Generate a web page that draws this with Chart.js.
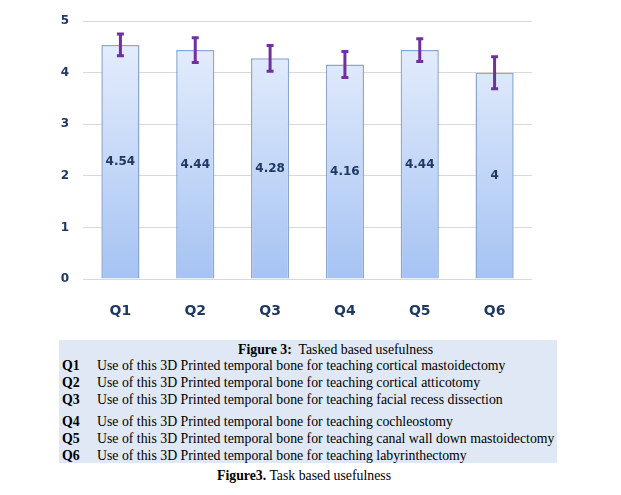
<!DOCTYPE html>
<html>
<head>
<meta charset="utf-8">
<script src="https://cdn.jsdelivr.net/npm/chart.js@4.4.1/dist/chart.umd.min.js"></script>
<style>
  html, body { margin: 0; padding: 0; background: #fff; }
  #wrap { position: relative; width: 621px; height: 495px; }
  #chartBox { position: absolute; left: 0; top: 0; width: 621px; height: 330px; }
  .cap { position: absolute; font-family: "Liberation Serif", "Times New Roman", serif; font-size: 13.8px; line-height: 17px; color: #000; white-space: nowrap; }
  #legendBox { position: absolute; left: 59px; top: 340px; width: 498px; height: 123px; background: #dfe8f4; }
  b { font-weight: bold; }
</style>
</head>
<body>
<div id="wrap">
  <div id="chartBox"><canvas id="chart" width="621" height="330"></canvas></div>
  <div id="legendBox"></div>
  <div id="captions"></div>
</div>
<script>
// data
const categories = ["Q1", "Q2", "Q3", "Q4", "Q5", "Q6"];
const means = [4.54, 4.44, 4.28, 4.16, 4.44, 4];
const errors = [0.21, 0.24, 0.25, 0.25, 0.22, 0.31];
const descriptions = [
  "Use of this 3D Printed temporal bone for teaching cortical mastoidectomy",
  "Use of this 3D Printed temporal bone for teaching cortical atticotomy",
  "Use of this 3D Printed temporal bone for teaching facial recess dissection",
  "Use of this 3D Printed temporal bone for teaching cochleostomy",
  "Use of this 3D Printed temporal bone for teaching canal wall down mastoidectomy",
  "Use of this 3D Printed temporal bone for teaching labyrinthectomy",
];
const tableTitle = "Tasked based usefulness";
const figureCaption = "Task based usefulness";

// === caption table ===
const rowTops = [357, 374, 391, 413, 430, 447];
let html = `<div class="cap" style="left:238px;top:341px"><b>Figure 3:</b>&nbsp; ${tableTitle}</div>`;
categories.forEach((c, i) => {
  html += `<div class="cap" style="left:62px;top:${rowTops[i]}px"><b>${c}</b></div>`;
  html += `<div class="cap" style="left:97px;top:${rowTops[i]}px">${descriptions[i]}</div>`;
});
html += `<div class="cap" style="left:217px;top:467px"><b>Figure3.</b> ${figureCaption}</div>`;
document.getElementById("captions").innerHTML = html;

// === error bars + value labels ===
const extrasPlugin = {
  id: "extras",
  afterDatasetsDraw(chart) {
    const ctx = chart.ctx;
    const x = chart.scales.x;
    const y = chart.scales.y;
    ctx.save();
    means.forEach((m, i) => {
      const cx = x.getPixelForValue(i);
      const top = y.getPixelForValue(m + errors[i]);
      const bot = y.getPixelForValue(m - errors[i]);
      ctx.strokeStyle = "#7030a0";
      ctx.lineWidth = 3;
      ctx.beginPath();
      ctx.moveTo(cx, top);
      ctx.lineTo(cx, bot);
      ctx.moveTo(cx - 3.5, top);
      ctx.lineTo(cx + 3.5, top);
      ctx.moveTo(cx - 3.5, bot);
      ctx.lineTo(cx + 3.5, bot);
      ctx.stroke();

      const mid = (y.getPixelForValue(m) + y.getPixelForValue(0)) / 2;
      ctx.fillStyle = "#1f3864";
      ctx.font = "bold 12px 'DejaVu Sans', sans-serif";
      ctx.textAlign = "center";
      ctx.textBaseline = "middle";
      ctx.fillText(String(m), cx, mid);
    });
    ctx.restore();
  },
};

function barGradient(context) {
  const area = context.chart.chartArea;
  if (!area) return "#c9dbf8";
  const g = context.chart.ctx.createLinearGradient(0, area.top, 0, area.bottom);
  g.addColorStop(0, "#eaf1fd");
  g.addColorStop(1, "#a6c3f3");
  return g;
}

new Chart(document.getElementById("chart"), {
  type: "bar",
  data: {
    labels: categories,
    datasets: [{
      data: means,
      backgroundColor: barGradient,
      borderColor: "#8ba7d2",
      borderWidth: 1.5,
      categoryPercentage: 1,
      barPercentage: 0.51,
    }],
  },
  plugins: [extrasPlugin],
  options: {
    responsive: false,
    animation: false,
    layout: { padding: { left: 0, right: 89, top: 21, bottom: 0 } },
    plugins: { legend: { display: false }, tooltip: { enabled: false } },
    scales: {
      x: {
        grid: { display: false, drawTicks: false },
        border: { display: false },
        ticks: { color: "#1f3864", font: { family: "DejaVu Sans", size: 14, weight: "bold" }, padding: 24 },
        afterFit: (s) => { s.height = 51; },
      },
      y: {
        min: 0, max: 5,
        grid: { color: "#d9d9d9", drawTicks: false },
        border: { display: false },
        ticks: { stepSize: 1, color: "#1f3864", font: { family: "DejaVu Sans", size: 12, weight: "bold" }, padding: 14 },
        afterFit: (s) => { s.width = 83; },
      },
    },
  },
});
</script>
</body>
</html>
